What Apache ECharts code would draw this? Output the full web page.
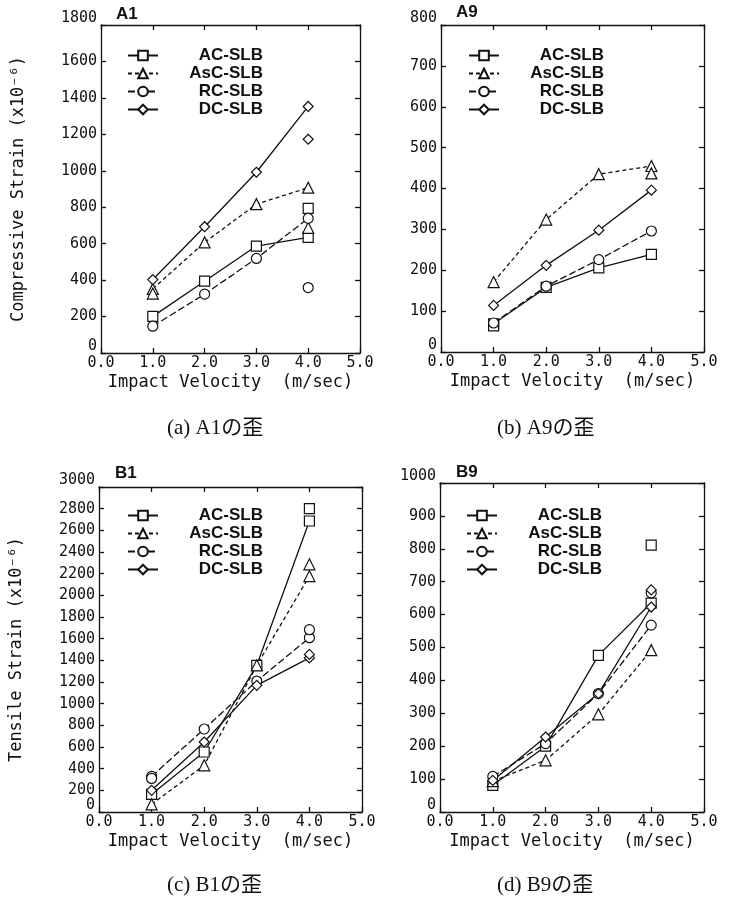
<!DOCTYPE html>
<html>
<head>
<meta charset="utf-8">
<script src="https://cdn.jsdelivr.net/npm/echarts@6/dist/echarts.min.js"></script>
<style>html,body{margin:0;padding:0;background:#fff}#c{width:733px;height:904px}</style>
</head>
<body>
<div id="c"></div>
<script>
// ---------------- data ----------------
const velocity = [1, 2, 3, 4];
const seriesNames = ['AC-SLB', 'AsC-SLB', 'RC-SLB', 'DC-SLB'];
const panelTitles = ['A1', 'A9', 'B1', 'B9'];
const captions = ['(a) A1の歪', '(b) A9の歪', '(c) B1の歪', '(d) B9の歪'];
const xAxisName = 'Impact Velocity  (m/sec)';
const yNameCompressive = 'Compressive Strain (x10⁻⁶)';
const yNameTensile = 'Tensile Strain (x10⁻⁶)';
const yMax = [1800, 800, 3000, 1000];
const yStep = [200, 100, 200, 100];

// A1 (compressive)
const a1_AC = [201, 394, 587, 634];
const a1_AsC = [352, 607, 817, 907];
const a1_RC = [147, 323, 519, 739];
const a1_DC = [403, 693, 992, 1353];
const a1_AC_extra = [[4, 794]];
const a1_AsC_extra = [[1, 326], [4, 687]];
const a1_RC_extra = [[4, 359]];
const a1_DC_extra = [[4, 1173]];

// A9 (compressive)
const a9_AC = [69, 158, 206, 239];
const a9_AsC = [171, 324, 435, 455];
const a9_RC = [71, 161, 226, 296];
const a9_DC = [114, 212, 298, 396];
const a9_AC_extra = [[1, 64]];
const a9_AsC_extra = [[4, 437]];
const a9_RC_extra = [];
const a9_DC_extra = [];

// B1 (tensile)
const b1_AC = [163, 554, 1354, 2686];
const b1_AsC = [71, 431, 1354, 2178];
const b1_RC = [329, 766, 1209, 1609];
const b1_DC = [200, 646, 1169, 1422];
const b1_AC_extra = [[4, 2800]];
const b1_AsC_extra = [[4, 2286]];
const b1_RC_extra = [[1, 310], [4, 1683]];
const b1_DC_extra = [[4, 1455]];

// B9 (tensile)
const b9_AC = [81, 200, 476, 635];
const b9_AsC = [94, 157, 297, 492];
const b9_RC = [108, 208, 360, 568];
const b9_DC = [96, 228, 360, 623];
const b9_AC_extra = [[4, 811]];
const b9_AsC_extra = [];
const b9_RC_extra = [[4, 666]];
const b9_DC_extra = [[4, 675]];

const panels = [
  [a1_AC, a1_AsC, a1_RC, a1_DC],
  [a9_AC, a9_AsC, a9_RC, a9_DC],
  [b1_AC, b1_AsC, b1_RC, b1_DC],
  [b9_AC, b9_AsC, b9_RC, b9_DC]
];
const extras = [
  [a1_AC_extra, a1_AsC_extra, a1_RC_extra, a1_DC_extra],
  [a9_AC_extra, a9_AsC_extra, a9_RC_extra, a9_DC_extra],
  [b1_AC_extra, b1_AsC_extra, b1_RC_extra, b1_DC_extra],
  [b9_AC_extra, b9_AsC_extra, b9_RC_extra, b9_DC_extra]
];

// ---------------- style / layout ----------------
const grids = [
  {left: 101, top: 25, width: 259, height: 328},
  {left: 441, top: 25, width: 263, height: 327},
  {left: 99, top: 487, width: 263, height: 325},
  {left: 440, top: 483, width: 264, height: 329}
];
const symbols = ['rect', 'triangle', 'circle', 'diamond'];
const dashes = ['solid', [4, 3], [7, 3], 'solid'];
const mono = 'DejaVu Sans Mono';
const ink = '#111';
const axisLineStyle = {color: ink, width: 1.3};
const yNamePad = [0, 40, 0, 48, 0];

const xAxes = [], yAxes = [], series = [], legends = [], titles = [];

grids.forEach((g, i) => {
  xAxes.push({
    gridIndex: i, type: 'value', min: 0, max: 5, interval: 1,
    axisLine: {show: true, onZero: false, lineStyle: axisLineStyle},
    axisTick: {inside: true, length: 5, lineStyle: axisLineStyle},
    splitLine: {show: false},
    axisLabel: {formatter: v => v.toFixed(1), fontFamily: mono, fontSize: 15, color: ink, margin: 3},
    name: xAxisName, nameLocation: 'middle', nameGap: 21,
    nameTextStyle: {fontFamily: mono, fontSize: 17, color: ink}
  });
  xAxes.push({
    gridIndex: i, type: 'value', min: 0, max: 5, interval: 1, position: 'top',
    axisLine: {show: true, onZero: false, lineStyle: axisLineStyle},
    axisTick: {inside: true, length: 5, lineStyle: axisLineStyle},
    splitLine: {show: false}, axisLabel: {show: false}
  });
  let yName = '';
  if (i === 0) yName = yNameCompressive;
  if (i === 2) yName = yNameTensile;
  const mx = yMax[i];
  yAxes.push({
    gridIndex: i, type: 'value', min: 0, max: mx, interval: yStep[i],
    axisLine: {show: true, onZero: false, lineStyle: axisLineStyle},
    axisTick: {inside: true, length: 5, lineStyle: axisLineStyle},
    splitLine: {show: false},
    axisLabel: {
      formatter: v => (v === 0 || v === mx) ? '{e|' + v + '}' : String(v),
      fontFamily: mono, fontSize: 15, color: ink, margin: 4,
      rich: {e: {fontFamily: mono, fontSize: 15, color: ink, padding: [0, 0, 13, 0]}}
    },
    name: yName, nameLocation: 'middle', nameGap: 74,
    nameTextStyle: {fontFamily: mono, fontSize: 17, color: ink, padding: [0, 0, 0, yNamePad[i]]}
  });
  yAxes.push({
    gridIndex: i, type: 'value', min: 0, max: mx, interval: yStep[i], position: 'right',
    axisLine: {show: true, onZero: false, lineStyle: axisLineStyle},
    axisTick: {inside: true, length: 5, lineStyle: axisLineStyle},
    splitLine: {show: false}, axisLabel: {show: false}
  });

  seriesNames.forEach((nm, k) => {
    series.push({
      name: nm, type: 'line', xAxisIndex: 2 * i, yAxisIndex: 2 * i,
      data: velocity.map((v, j) => [v, panels[i][k][j]]),
      symbol: symbols[k], symbolSize: k === 1 ? 11 : 10,
      itemStyle: {color: '#fff', borderColor: ink, borderWidth: 1.2, opacity: 1},
      lineStyle: {color: ink, width: 1.3, type: dashes[k]},
      z: 3, animation: false
    });
    if (extras[i][k].length) {
      series.push({
        name: nm + ' *', type: 'scatter', xAxisIndex: 2 * i, yAxisIndex: 2 * i,
        data: extras[i][k], symbol: symbols[k], symbolSize: k === 1 ? 11 : 10,
        itemStyle: {color: '#fff', borderColor: ink, borderWidth: 1.2, opacity: 1},
        z: 3, animation: false
      });
    }
  });
});

const legendPos = [
  {left: 127, top: 47},
  {left: 468, top: 47},
  {left: 127, top: 507},
  {left: 466, top: 507}
];
legendPos.forEach(p => {
  legends.push({
    data: seriesNames, left: p.left, top: p.top, orient: 'vertical',
    itemWidth: 30, itemHeight: 12, itemGap: 1, selectedMode: false, padding: 0,
    formatter: name => '{t|' + name + '}',
    textStyle: {
      rich: {t: {fontFamily: 'Liberation Sans', fontWeight: 'bold', fontSize: 17, color: ink,
                 width: 100, align: 'right', lineHeight: 17}}
    }
  });
});

const titlePos = [
  {left: 116, top: 6}, {left: 456, top: 4}, {left: 115, top: 465}, {left: 456, top: 464}
];
titlePos.forEach((p, i) => {
  titles.push({text: panelTitles[i], left: p.left, top: p.top, padding: 0,
    textStyle: {fontFamily: 'Liberation Sans', fontWeight: 'bold', fontSize: 17, color: ink}});
});
const capPos = [
  {left: 167, top: 418}, {left: 497, top: 418}, {left: 167, top: 875}, {left: 497, top: 875}
];
capPos.forEach((p, i) => {
  titles.push({text: captions[i], left: p.left, top: p.top, padding: 0,
    textStyle: {fontFamily: 'Liberation Serif, Noto Sans CJK JP', fontWeight: 'normal', fontSize: 21, color: ink}});
});

const chart = echarts.init(document.getElementById('c'), null, {renderer: 'canvas'});
chart.setOption({
  animation: false,
  backgroundColor: '#fff',
  title: titles,
  legend: legends,
  grid: grids,
  xAxis: xAxes,
  yAxis: yAxes,
  series: series
});
</script>
</body>
</html>
